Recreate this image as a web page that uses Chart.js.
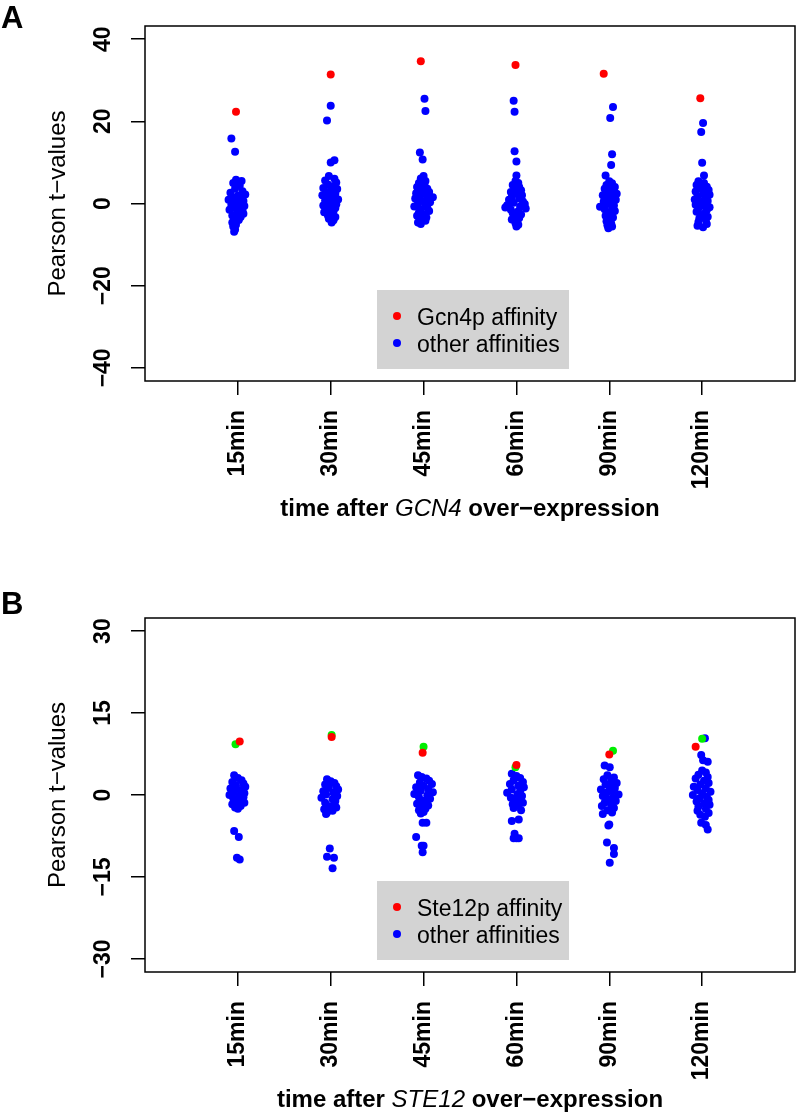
<!DOCTYPE html>
<html>
<head>
<meta charset="utf-8">
<title>Pearson t-values after over-expression</title>
<script src="https://cdn.jsdelivr.net/npm/chart.js@4.4.1/dist/chart.umd.min.js"></script>
<style>
  body { margin: 0; background: #fff; }
  .panel { position: absolute; left: 0; width: 799px; }
  #panelA { top: 0; height: 560px; }
  #panelB { top: 560px; height: 554px; }
</style>
</head>
<body>
<div class="panel" id="panelA"><canvas id="chartA" width="799" height="560"></canvas></div>
<div class="panel" id="panelB"><canvas id="chartB" width="799" height="554"></canvas></div>
<script>
'use strict';

// categories + tick labels
const timeLabels = ['15min', '30min', '45min', '60min', '90min', '120min'];
const gcnTicks = [-40, -20, 0, 20, 40];
const steTicks = [-30, -15, 0, 15, 30];

// ---- panel A: GCN4 ----
const gcnAffinity = [22.3, 31.4, 34.6, 33.7, 31.6, 25.6];
const gcnAffinityJitter = [-0.02, 0.0, -0.03, -0.01, -0.06, -0.02];

const gcnOther15 = [15.8, 12.6, 5.8, 5.5, 5.0, 4.3, 3.6, 3.0, 2.6, 2.2, 1.9, 1.5, 1.2, 0.9, 0.6, 0.3, 0.0, -0.3, -0.6, -0.9, -1.2, -1.5, -1.8, -2.1, -2.5, -2.9, -3.3, -3.6, -4.0, -4.6, -5.2, -5.6, -6.3, -6.9];
const gcnOther15Jitter = [-0.07, -0.03, -0.02, 0.04, -0.05, 0.02, -0.03, 0.05, -0.08, 0.08, 0.0, -0.06, 0.04, -0.1, 0.06, -0.02, 0.03, -0.07, 0.07, -0.04, 0.02, -0.09, 0.05, -0.01, 0.06, -0.06, 0.03, -0.03, 0.01, -0.06, -0.02, -0.05, -0.03, -0.04];

const gcnOther30 = [23.8, 20.2, 10.0, 10.5, 6.7, 6.0, 5.6, 5.1, 4.6, 4.2, 3.8, 3.5, 3.1, 2.8, 2.4, 2.0, 1.7, 1.4, 1.0, 0.7, 0.4, 0.1, -0.2, -0.5, -0.8, -1.1, -1.4, -1.8, -2.1, -2.5, -2.9, -3.3, -3.7, -4.1, -4.6];
const gcnOther30Jitter = [0.0, -0.04, 0.0, 0.04, -0.02, 0.04, -0.06, 0.06, -0.03, 0.02, -0.08, 0.07, 0.0, -0.05, 0.05, -0.09, 0.02, -0.03, 0.08, -0.06, 0.03, -0.01, 0.06, -0.08, 0.01, 0.05, -0.04, 0.03, -0.07, 0.02, -0.03, 0.05, -0.02, 0.03, 0.01];

const gcnOther45 = [25.5, 22.5, 12.4, 10.7, 6.7, 6.1, 5.5, 5.0, 4.5, 4.0, 3.6, 3.2, 2.8, 2.5, 2.1, 1.8, 1.5, 1.2, 0.9, 0.6, 0.3, 0.0, -0.4, -0.7, -1.0, -1.4, -1.8, -2.2, -2.6, -3.0, -3.4, -3.8, -4.2, -4.6, -5.0];
const gcnOther45Jitter = [0.01, 0.02, -0.04, -0.01, 0.0, -0.03, 0.02, -0.05, 0.01, -0.07, 0.04, -0.02, 0.06, -0.08, 0.03, -0.04, 0.1, -0.09, 0.05, -0.01, 0.07, -0.06, 0.02, -0.1, 0.04, -0.03, 0.06, -0.05, 0.01, -0.07, 0.03, -0.02, 0.02, -0.06, -0.03];

const gcnOther60 = [25.0, 22.3, 12.7, 10.2, 6.8, 5.5, 5.0, 4.5, 4.0, 3.6, 3.2, 2.8, 2.4, 2.0, 1.6, 1.2, 0.9, 0.5, 0.2, -0.1, -0.4, -0.7, -1.0, -1.2, -1.5, -1.9, -2.3, -2.7, -3.1, -3.5, -3.9, -4.3, -4.8, -5.2, -5.6];
const gcnOther60Jitter = [-0.03, -0.02, -0.02, 0.0, 0.0, -0.01, 0.02, -0.04, 0.03, -0.02, 0.05, -0.06, 0.01, 0.06, -0.05, 0.03, -0.08, 0.07, -0.03, 0.09, -0.1, 0.04, -0.12, 0.1, -0.06, 0.02, -0.04, 0.05, -0.02, 0.03, -0.05, 0.01, -0.01, 0.02, 0.0];

const gcnOther90 = [23.5, 20.8, 12.0, 9.4, 6.8, 5.4, 4.9, 4.5, 4.0, 3.6, 3.2, 2.8, 2.4, 2.0, 1.6, 1.2, 0.9, 0.5, 0.2, -0.1, -0.5, -0.8, -1.1, -1.4, -1.8, -2.2, -2.6, -3.0, -3.4, -3.8, -4.3, -4.8, -5.3, -5.6, -6.0];
const gcnOther90Jitter = [0.04, 0.01, 0.03, 0.02, -0.04, 0.0, 0.03, -0.03, 0.06, -0.05, 0.02, -0.02, 0.08, -0.07, 0.04, -0.01, 0.07, -0.06, 0.02, -0.03, 0.05, -0.1, 0.03, -0.05, 0.06, -0.02, 0.02, -0.04, 0.04, 0.0, -0.03, 0.02, -0.02, 0.03, -0.01];

const gcnOther120 = [19.6, 17.4, 9.9, 6.8, 5.4, 5.0, 4.5, 4.1, 3.7, 3.3, 2.9, 2.5, 2.1, 1.7, 1.3, 1.0, 0.6, 0.3, 0.0, -0.3, -0.6, -0.9, -1.2, -1.6, -2.0, -2.4, -2.8, -3.2, -3.6, -4.0, -4.5, -5.0, -5.4, -5.8];
const gcnOther120Jitter = [0.01, -0.01, 0.0, 0.02, -0.04, 0.02, -0.06, 0.05, -0.02, 0.07, -0.07, 0.01, 0.08, -0.05, 0.03, -0.08, 0.06, -0.02, 0.04, -0.07, 0.02, 0.08, -0.04, 0.05, -0.06, 0.03, -0.01, 0.06, -0.03, 0.04, -0.04, 0.05, -0.05, 0.01];

// ---- panel B: STE12 ----
const steAffinity = [9.8, 10.6, 7.75, 5.5, 7.4, 8.85];
const steAffinityJitter = [0.02, 0.01, -0.01, 0.0, 0.0, -0.07];
const steAffinity2 = [9.3, 11.0, 8.85, 5.1, 8.1, 10.3];
const steAffinity2Jitter = [-0.025, 0.01, 0.0, -0.01, 0.04, 0.0];

const steOther15 = [-6.6, -7.7, -11.5, -11.8, 3.6, 3.1, 2.7, 2.4, 2.1, 1.8, 1.5, 1.2, 0.9, 0.6, 0.3, 0.0, -0.2, -0.4, -0.6, -0.9, -1.1, -1.4, -1.7, -2.0, -2.3, -2.5];
const steOther15Jitter = [-0.04, 0.01, -0.01, 0.02, -0.04, 0.0, 0.04, -0.06, 0.06, -0.02, 0.08, -0.08, 0.03, -0.04, 0.07, -0.09, 0.02, 0.06, -0.05, 0.04, -0.02, 0.07, -0.06, 0.03, -0.03, 0.0];

const steOther30 = [-9.8, -11.3, -11.5, -13.4, 2.9, 2.5, 2.2, 1.9, 1.6, 1.3, 1.0, 0.7, 0.4, 0.1, -0.2, -0.5, -0.8, -1.1, -1.4, -1.7, -2.0, -2.3, -2.6, -2.9, -3.2, -3.5];
const steOther30Jitter = [-0.01, -0.04, 0.035, 0.02, -0.04, 0.0, 0.04, -0.06, 0.06, -0.02, 0.08, -0.08, 0.03, -0.05, 0.07, -0.1, 0.02, 0.05, -0.06, 0.04, -0.03, 0.06, -0.07, 0.02, -0.04, -0.05];

const steOther45 = [-5.1, -5.1, -7.7, -9.3, -9.3, -10.5, 3.6, 3.3, 3.0, 2.6, 2.3, 2.0, 1.7, 1.4, 1.1, 0.8, 0.5, 0.2, -0.1, -0.4, -0.7, -1.0, -1.3, -1.6, -1.9, -2.2, -2.5, -2.8, -3.1, -3.4];
const steOther45Jitter = [0.03, -0.01, -0.08, -0.02, 0.0, -0.01, -0.06, -0.02, 0.03, 0.06, -0.04, 0.09, 0.0, -0.08, 0.05, -0.03, 0.1, -0.1, 0.04, -0.05, 0.07, -0.02, 0.03, -0.07, 0.05, -0.02, 0.02, -0.05, 0.0, -0.03];

const steOther60 = [-4.75, -4.5, -7.1, -7.9, -7.9, -7.9, 3.9, 3.5, 3.1, 2.7, 2.4, 2.0, 1.7, 1.4, 1.0, 0.7, 0.4, 0.1, -0.2, -0.5, -0.8, -1.1, -1.4, -1.7, -2.0, -2.4, -2.8];
const steOther60Jitter = [-0.05, 0.025, -0.02, 0.0, 0.025, -0.03, -0.05, 0.0, 0.04, -0.03, 0.07, -0.07, 0.02, 0.08, -0.05, 0.04, -0.1, 0.01, 0.06, -0.06, 0.03, -0.02, 0.07, -0.04, 0.02, -0.03, 0.05];

const steOther90 = [5.4, 5.1, -5.4, -5.6, -8.7, -9.7, -10.8, -12.4, 3.6, 3.2, 2.9, 2.5, 2.2, 1.9, 1.6, 1.3, 1.0, 0.7, 0.4, 0.1, -0.2, -0.5, -0.8, -1.1, -1.4, -1.7, -2.0, -2.4, -2.8, -3.2, -3.5];
const steOther90Jitter = [-0.05, 0.005, 0.0, -0.01, -0.025, 0.05, 0.05, 0.005, -0.02, 0.05, -0.06, 0.02, 0.08, -0.04, 0.0, 0.06, -0.09, 0.03, -0.03, 0.1, -0.07, 0.04, -0.01, 0.07, -0.05, 0.02, -0.08, 0.05, -0.02, 0.03, -0.07];

const steOther120 = [10.4, 7.3, 6.1, 6.35, -5.1, -5.5, -6.3, 4.5, 4.1, 3.7, 3.3, 3.0, 2.6, 2.2, 1.9, 1.5, 1.2, 0.9, 0.6, 0.3, 0.0, -0.3, -0.6, -0.9, -1.2, -1.5, -1.8, -2.1, -2.5, -2.9, -3.3, -3.6, -4.0];
const steOther120Jitter = [0.03, -0.01, 0.06, 0.01, -0.01, 0.04, 0.06, 0.0, 0.04, -0.04, 0.06, -0.07, 0.02, 0.07, -0.02, -0.09, 0.04, -0.05, 0.09, 0.0, -0.1, 0.05, -0.03, 0.07, -0.06, 0.02, 0.08, -0.04, 0.04, -0.05, 0.07, -0.02, 0.03];

const gcnOther = [gcnOther15, gcnOther30, gcnOther45, gcnOther60, gcnOther90, gcnOther120];
const gcnOtherJitter = [gcnOther15Jitter, gcnOther30Jitter, gcnOther45Jitter, gcnOther60Jitter, gcnOther90Jitter, gcnOther120Jitter];
const steOther = [steOther15, steOther30, steOther45, steOther60, steOther90, steOther120];
const steOtherJitter = [steOther15Jitter, steOther30Jitter, steOther45Jitter, steOther60Jitter, steOther90Jitter, steOther120Jitter];

const FONT = '"Liberation Sans", Arial, Helvetica, sans-serif';
const MINUS = '\u2212';

Chart.defaults.font.family = FONT;
Chart.defaults.color = '#000';

function fmt(v) {
    return v < 0 ? MINUS + Math.abs(v) : String(v);
}

// one point per value, x = category position + jitter
function onePerCategory(values, jitter) {
    return values.map((v, i) => ({ x: i + 1 + jitter[i], y: v }));
}

function perCategory(groups, jitters) {
    const pts = [];
    groups.forEach((vals, i) => {
        vals.forEach((v, k) => pts.push({ x: i + 1 + jitters[i][k], y: v }));
    });
    return pts;
}

// R-ish decorations: box, rotated y labels, titles, legend
const rDecor = {
    id: 'rDecor',
    afterDatasetsDraw(chart, args, opts) {
        const ctx = chart.ctx;
        const area = chart.chartArea;

        // legend box
        const lx = area.left + 232, lw = 192, lh = 79;
        const ly = area.bottom - 12 - lh;
        ctx.save();
        ctx.fillStyle = '#d3d3d3';
        ctx.fillRect(lx, ly, lw, lh);
        const items = [[opts.legendText, '#ff0000'], ['other affinities', '#0000ff']];
        items.forEach((it, i) => {
            ctx.fillStyle = it[1];
            ctx.beginPath();
            ctx.arc(lx + 20, ly + 26 + i * 27, 4, 0, Math.PI * 2);
            ctx.fill();
            ctx.fillStyle = '#000';
            ctx.font = '23px ' + FONT;
            ctx.textAlign = 'left';
            ctx.textBaseline = 'alphabetic';
            ctx.fillText(it[0], lx + 40, ly + 35 + i * 27);
        });
        ctx.restore();
    },
    afterDraw(chart, args, opts) {
        const ctx = chart.ctx;
        const area = chart.chartArea;
        const yScale = chart.scales.y;
        ctx.save();

        // plot box
        ctx.strokeStyle = '#000';
        ctx.lineWidth = 1.5;
        ctx.strokeRect(area.left, area.top, area.right - area.left, area.bottom - area.top);

        // y tick labels, parallel to the axis
        ctx.fillStyle = '#000';
        ctx.font = 'bold 23px ' + FONT;
        ctx.textAlign = 'center';
        ctx.textBaseline = 'alphabetic';
        opts.yTicks.forEach(v => {
            ctx.save();
            ctx.translate(110, yScale.getPixelForValue(v));
            ctx.rotate(-Math.PI / 2);
            ctx.fillText(fmt(v), 0, 0);
            ctx.restore();
        });

        // y title
        ctx.font = '24px ' + FONT;
        ctx.save();
        ctx.translate(65, (area.top + area.bottom) / 2);
        ctx.rotate(-Math.PI / 2);
        ctx.fillText('Pearson t' + MINUS + 'values', 0, 0);
        ctx.restore();

        // x title with italic gene name
        const parts = [
            ['bold 24px ' + FONT, 'time after '],
            ['italic 24px ' + FONT, opts.gene],
            ['bold 24px ' + FONT, ' over' + MINUS + 'expression']
        ];
        let total = 0;
        parts.forEach(p => { ctx.font = p[0]; total += ctx.measureText(p[1]).width; });
        let x = (area.left + area.right) / 2 - total / 2;
        ctx.textAlign = 'left';
        parts.forEach(p => {
            ctx.font = p[0];
            ctx.fillText(p[1], x, opts.titleY);
            x += ctx.measureText(p[1]).width;
        });

        // panel letter
        ctx.font = 'bold 31px ' + FONT;
        ctx.fillText(opts.letter, 1, opts.letterY);
        ctx.restore();
    }
};

function makePanel(canvasId, cfg) {
    const canvas = document.getElementById(canvasId);
    const bottomAxis = canvas.height - cfg.areaBottom;
    const lim = cfg.yTicks[cfg.yTicks.length - 1] * 1.08;

    const datasets = [{
        data: onePerCategory(cfg.red, cfg.redJitter),
        backgroundColor: '#ff0000'
    }];
    if (cfg.green) {
        datasets.push({
            data: onePerCategory(cfg.green, cfg.greenJitter),
            backgroundColor: '#00ee00'
        });
    }
    datasets.push({
        data: perCategory(cfg.other, cfg.otherJitter),
        backgroundColor: '#0000ff'
    });
    datasets.forEach(d => {
        d.pointRadius = 4;
        d.pointBorderWidth = 0;
        d.pointHoverRadius = 4;
    });

    return new Chart(canvas, {
        type: 'scatter',
        data: { datasets: datasets },
        plugins: [rDecor],
        options: {
            responsive: false,
            animation: false,
            devicePixelRatio: 1,
            layout: { padding: { top: cfg.areaTop, right: 4, left: 0, bottom: 0 } },
            scales: {
                x: {
                    type: 'linear',
                    min: 0,
                    max: 7,
                    afterBuildTicks: s => { s.ticks = timeLabels.map((t, i) => ({ value: i + 1 })); },
                    afterFit: s => { s.height = bottomAxis; },
                    ticks: {
                        autoSkip: false,
                        minRotation: 90,
                        maxRotation: 90,
                        padding: 15,
                        font: { size: 23, weight: 'bold' },
                        callback: v => timeLabels[v - 1]
                    },
                    grid: {
                        drawOnChartArea: false,
                        drawTicks: true,
                        tickLength: 14,
                        color: '#000',
                        lineWidth: 1.5
                    },
                    border: { display: false }
                },
                y: {
                    min: -lim,
                    max: lim,
                    afterBuildTicks: s => { s.ticks = cfg.yTicks.map(v => ({ value: v })); },
                    afterFit: s => { s.width = 145; },
                    ticks: { display: false },
                    grid: {
                        drawOnChartArea: false,
                        drawTicks: true,
                        tickLength: 14,
                        color: '#000',
                        lineWidth: 1.5
                    },
                    border: { display: false }
                }
            },
            plugins: {
                legend: { display: false },
                tooltip: { enabled: false },
                rDecor: {
                    yTicks: cfg.yTicks,
                    gene: cfg.gene,
                    legendText: cfg.legendText,
                    titleY: cfg.titleY,
                    letter: cfg.letter,
                    letterY: cfg.letterY
                }
            }
        }
    });
}

makePanel('chartA', {
    yTicks: gcnTicks,
    red: gcnAffinity, redJitter: gcnAffinityJitter,
    other: gcnOther, otherJitter: gcnOtherJitter,
    gene: 'GCN4', legendText: 'Gcn4p affinity',
    areaTop: 26, areaBottom: 381, titleY: 516, letter: 'A', letterY: 28
});

makePanel('chartB', {
    yTicks: steTicks,
    red: steAffinity, redJitter: steAffinityJitter,
    green: steAffinity2, greenJitter: steAffinity2Jitter,
    other: steOther, otherJitter: steOtherJitter,
    gene: 'STE12', legendText: 'Ste12p affinity',
    areaTop: 58, areaBottom: 412, titleY: 547, letter: 'B', letterY: 54
});
</script>
</body>
</html>
